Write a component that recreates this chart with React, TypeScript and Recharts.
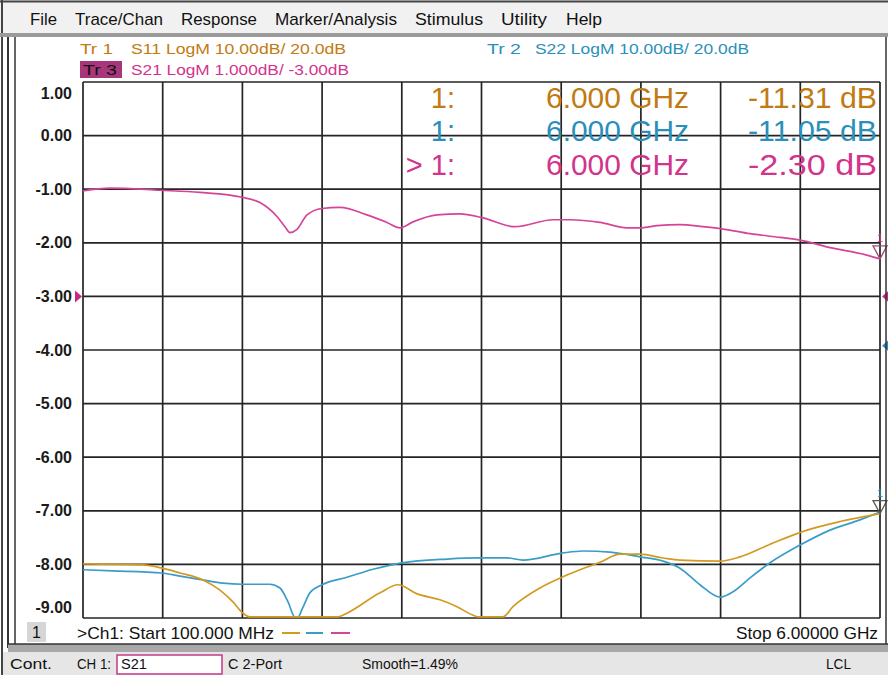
import { LineChart, Line, XAxis, YAxis, CartesianGrid, ReferenceDot, ReferenceLine } from 'recharts';

// sweep
const START_GHZ = 0.1;
const STOP_GHZ = 6.0;
const gridFreqs = Array.from({ length: 11 }, (_, i) => START_GHZ + (i * (STOP_GHZ - START_GHZ)) / 10);
const yTicks = [1, 0, -1, -2, -3, -4, -5, -6, -7, -8, -9];

// Tr 3: S21, 1 dB/div (left scale)
const s21Freq = [0.1, 0.3, 0.67, 0.966, 1.277, 1.41, 1.536, 1.595, 1.632, 1.684, 1.758, 1.869, 2.002, 2.202, 2.35, 2.447, 2.543, 2.721, 2.891, 3.054, 3.298, 3.579, 3.705, 3.927, 4.127, 4.238, 4.349, 4.519, 4.69, 4.83, 5.038, 5.26, 5.408, 5.63, 5.889, 6.0];
const s21Db = [-1.03, -0.98, -1.02, -1.06, -1.15, -1.25, -1.51, -1.7, -1.81, -1.75, -1.48, -1.36, -1.34, -1.48, -1.62, -1.72, -1.61, -1.48, -1.46, -1.53, -1.7, -1.57, -1.57, -1.62, -1.72, -1.72, -1.68, -1.66, -1.7, -1.74, -1.83, -1.9, -1.95, -2.09, -2.22, -2.3];

// Tr 1: S11, 10 dB/div (the display pins it to the bottom edge)
const s11Freq = [0.1, 0.544, 0.685, 0.818, 0.988, 1.114, 1.21, 1.284, 1.336, 1.706, 1.988, 2.054, 2.299, 2.432, 2.573, 2.743, 2.869, 2.98, 3.024, 3.209, 3.283, 3.483, 3.646, 3.779, 3.927, 4.075, 4.223, 4.394, 4.519, 4.816, 4.964, 5.208, 5.46, 5.704, 6.0];
const s11Db = [-20.7, -20.9, -21.5, -22.4, -23.7, -25.6, -27.8, -29.9, -30.6, -30.6, -30.6, -29.9, -26.1, -24.6, -26.3, -27.4, -28.7, -30.2, -30.6, -30.6, -28.7, -25.2, -23.2, -21.8, -20.4, -18.9, -18.9, -19.6, -20.0, -20.2, -19.4, -16.8, -14.4, -12.8, -11.31];

// Tr 2: S22, 10 dB/div
const s22Freq = [0.1, 0.322, 0.685, 0.818, 0.988, 1.136, 1.277, 1.484, 1.558, 1.618, 1.669, 1.692, 1.728, 1.78, 1.869, 2.054, 2.247, 2.461, 2.795, 3.039, 3.239, 3.357, 3.646, 3.801, 4.001, 4.223, 4.394, 4.519, 4.667, 4.816, 4.912, 5.038, 5.186, 5.408, 5.63, 5.852, 6.0];
const s22Db = [-21.8, -22.0, -22.4, -23.0, -23.7, -24.3, -24.5, -24.5, -25.2, -27.8, -30.6, -30.6, -28.8, -26.1, -24.6, -23.2, -21.7, -20.5, -19.8, -19.6, -19.6, -20.0, -18.7, -18.3, -18.5, -19.4, -20.2, -21.5, -24.6, -26.9, -25.9, -23.3, -20.5, -17.2, -14.4, -12.5, -11.05];

const S21_REF = -3;
const S22_REF = 20;
const MARKER_GHZ = 6.0;

const menuItems = [
  { label: 'File', x: 30, w: 27 },
  { label: 'Trace/Chan', x: 75, w: 88 },
  { label: 'Response', x: 181, w: 76 },
  { label: 'Marker/Analysis', x: 275, w: 122 },
  { label: 'Stimulus', x: 415, w: 68 },
  { label: 'Utility', x: 501, w: 46 },
  { label: 'Help', x: 566, w: 36 },
];

const ORANGE = '#d39a22';
const ORANGE_TXT = '#c27a12';
const BLUE = '#3a9cc8';
const BLUE_TXT = '#2a8fba';
const MAGENTA = '#d6449a';
const MAGENTA_TXT = '#d2348c';
const GRID = '#242424';
const FONT = '"Liberation Sans", Arial, sans-serif';

const s21Data = s21Freq.map((f, i) => ({ f, v: s21Db[i] }));
const s11Data = s11Freq.map((f, i) => ({ f, v: s11Db[i] }));
const s22Data = s22Freq.map((f, i) => ({ f, v: s22Db[i] }));

const DbTick = (props: any) => {
  const { x, y, payload } = props;
  const v = payload.value as number;
  const dy = v === 1 ? 11 : v === -9 ? -11 : 0;
  return (
    <text x={x} y={y + dy} textAnchor="end" dominantBaseline="central" fontFamily={FONT} fontWeight="bold" fontSize={16} fill="#1a1a1a">
      {v.toFixed(2)}
    </text>
  );
};

const markerShape = (stroke: string, labelColor: string) => (props: any) => {
  const { cx, cy } = props;
  return (
    <g>
      <text x={cx} y={cy - 17} textAnchor="middle" fontFamily={FONT} fontSize={11} fill={labelColor}>1</text>
      <path d={`M${cx - 7},${cy - 13} L${cx + 7},${cy - 13} L${cx},${cy} Z`} fill="none" stroke={stroke} strokeWidth={1.3} />
    </g>
  );
};

const refRight = (fill: string) => (props: any) => {
  const { cx, cy } = props;
  return <path d={`M${cx + 2},${cy} L${cx + 9},${cy - 6} L${cx + 9},${cy + 6} Z`} fill={fill} />;
};

const refLeft = (fill: string) => (props: any) => {
  const { cx, cy } = props;
  return <path d={`M${cx - 1},${cy} L${cx - 8},${cy - 6} L${cx - 8},${cy + 6} Z`} fill={fill} />;
};

const Overlay = () => (
  <svg width={888} height={675} style={{ position: 'absolute', left: 0, top: 0, pointerEvents: 'none' }}>
    {/* menu bar */}
    <rect x={0} y={0} width={888} height={34} fill="#f1f1f1" />
    <line x1={0} y1={1.5} x2={888} y2={1.5} stroke="#444" strokeWidth={2} />
    <line x1={2} y1={0} x2={2} y2={675} stroke="#444" strokeWidth={2} />
    {menuItems.map((m) => (
      <text key={m.label} x={m.x} y={25} fontFamily={FONT} fontSize={17} fill="#111" textLength={m.w} lengthAdjust="spacingAndGlyphs">
        {m.label}
      </text>
    ))}
    <rect x={0} y={33} width={888} height={4} fill="#9a9a9a" />
    {/* frame */}
    <line x1={8} y1={37} x2={8} y2={648} stroke="#333" strokeWidth={2} />
    <line x1={15} y1={37} x2={15} y2={645} stroke="#333" strokeWidth={1.5} />
    <line x1={886} y1={37} x2={886} y2={645} stroke="#333" strokeWidth={1.5} />
    <rect x={8} y={644} width={880} height={8} fill="#a8a8a8" />
    <line x1={8} y1={644} x2={888} y2={644} stroke="#333" strokeWidth={1.5} />
    {/* status bar */}
    <rect x={3} y={652} width={885} height={23} fill="#e6e6e6" />
    <text x={10} y={669} fontFamily={FONT} fontSize={14} fill="#111" textLength={42} lengthAdjust="spacingAndGlyphs">Cont.</text>
    <text x={77} y={669} fontFamily={FONT} fontSize={14} fill="#111" textLength={34} lengthAdjust="spacingAndGlyphs">CH 1:</text>
    <rect x={117} y={655} width={105} height={19} fill="#ffffff" stroke="#c03a86" strokeWidth={1.5} />
    <text x={121} y={669} fontFamily={FONT} fontSize={14} fill="#111" textLength={26} lengthAdjust="spacingAndGlyphs">S21</text>
    <text x={228} y={669} fontFamily={FONT} fontSize={14} fill="#111" textLength={54} lengthAdjust="spacingAndGlyphs">C 2-Port</text>
    <text x={362} y={669} fontFamily={FONT} fontSize={14} fill="#111" textLength={96} lengthAdjust="spacingAndGlyphs">Smooth=1.49%</text>
    <text x={826} y={669} fontFamily={FONT} fontSize={14} fill="#111" textLength={25} lengthAdjust="spacingAndGlyphs">LCL</text>
    {/* trace headers */}
    <text x={80} y={54} fontFamily={FONT} fontSize={15} fill={ORANGE_TXT} textLength={33} lengthAdjust="spacingAndGlyphs">Tr 1</text>
    <text x={131} y={54} fontFamily={FONT} fontSize={15} fill={ORANGE_TXT} textLength={215} lengthAdjust="spacingAndGlyphs">S11 LogM 10.00dB/ 20.0dB</text>
    <text x={487} y={54} fontFamily={FONT} fontSize={15} fill={BLUE_TXT} textLength={34} lengthAdjust="spacingAndGlyphs">Tr 2</text>
    <text x={535} y={54} fontFamily={FONT} fontSize={15} fill={BLUE_TXT} textLength={214} lengthAdjust="spacingAndGlyphs">S22 LogM 10.00dB/ 20.0dB</text>
    <rect x={80} y={61} width={42} height={17} fill="#a8367a" />
    <text x={83} y={75} fontFamily={FONT} fontSize={15} fill="#111" textLength={34} lengthAdjust="spacingAndGlyphs">Tr 3</text>
    <text x={131} y={75} fontFamily={FONT} fontSize={15} fill={MAGENTA_TXT} textLength={218} lengthAdjust="spacingAndGlyphs">S21 LogM 1.000dB/ -3.00dB</text>
    {/* marker readout */}
    <g fontFamily={FONT} fontSize={29}>
      <text x={455} y={108} textAnchor="end" fill={ORANGE_TXT}>1:</text>
      <text x={689} y={108} textAnchor="end" fill={ORANGE_TXT} textLength={143} lengthAdjust="spacingAndGlyphs">6.000 GHz</text>
      <text x={877} y={108} textAnchor="end" fill={ORANGE_TXT} textLength={129} lengthAdjust="spacingAndGlyphs">-11.31 dB</text>
      <text x={455} y={141} textAnchor="end" fill={BLUE_TXT}>1:</text>
      <text x={689} y={141} textAnchor="end" fill={BLUE_TXT} textLength={143} lengthAdjust="spacingAndGlyphs">6.000 GHz</text>
      <text x={877} y={141} textAnchor="end" fill={BLUE_TXT} textLength={129} lengthAdjust="spacingAndGlyphs">-11.05 dB</text>
      <text x={455} y={175} textAnchor="end" fill={MAGENTA_TXT}>&gt; 1:</text>
      <text x={689} y={175} textAnchor="end" fill={MAGENTA_TXT} textLength={143} lengthAdjust="spacingAndGlyphs">6.000 GHz</text>
      <text x={877} y={175} textAnchor="end" fill={MAGENTA_TXT} textLength={129} lengthAdjust="spacingAndGlyphs">-2.30 dB</text>
    </g>
    {/* channel footer */}
    <rect x={27} y={622} width={19} height={20} fill="#d6d6d6" />
    <text x={36.5} y={638} textAnchor="middle" fontFamily={FONT} fontSize={16} fill="#111">1</text>
    <text x={77} y={639} fontFamily={FONT} fontSize={17} fill="#111" textLength={197} lengthAdjust="spacingAndGlyphs">&gt;Ch1: Start  100.000 MHz</text>
    <line x1={282} y1={633} x2={300} y2={633} stroke={ORANGE} strokeWidth={2} />
    <line x1={306} y1={633} x2={323} y2={633} stroke={BLUE} strokeWidth={2} />
    <line x1={331} y1={633} x2={350} y2={633} stroke={MAGENTA} strokeWidth={2} />
    <text x={878} y={639} textAnchor="end" fontFamily={FONT} fontSize={17} fill="#111" textLength={142} lengthAdjust="spacingAndGlyphs">Stop  6.00000 GHz</text>
  </svg>
);

export default function App() {
  return (
    <div style={{ position: 'absolute', left: 0, top: 0, width: 888, height: 675, background: '#ffffff', overflow: 'hidden' }}>
      <LineChart width={888} height={675} margin={{ top: 82, right: 8, bottom: 57, left: 23 }}>
        <CartesianGrid stroke={GRID} strokeWidth={1.7} vertical={false} />
        <XAxis
          type="number"
          dataKey="f"
          domain={[START_GHZ, STOP_GHZ]}
          ticks={gridFreqs}
          height={0}
          tick={false}
          axisLine={false}
          tickLine={false}
          allowDataOverflow
        />
        <YAxis
          type="number"
          domain={[-9, 1]}
          ticks={yTicks}
          width={60}
          axisLine={false}
          tickLine={false}
          tickSize={0}
          tickMargin={11}
          tick={<DbTick />}
          allowDataOverflow
        />
        <YAxis yAxisId="log" orientation="right" type="number" domain={[-30.8, 69.2]} hide allowDataOverflow />
        {gridFreqs.map((f) => (
          <ReferenceLine key={f} x={f} stroke={GRID} strokeWidth={1.7} ifOverflow="visible" />
        ))}
        <Line data={s22Data} dataKey="v" yAxisId="log" type="monotone" stroke={BLUE} strokeWidth={1.7} dot={false} isAnimationActive={false} />
        <Line data={s11Data} dataKey="v" yAxisId="log" type="monotone" stroke={ORANGE} strokeWidth={1.7} dot={false} isAnimationActive={false} />
        <Line data={s21Data} dataKey="v" type="monotone" stroke={MAGENTA} strokeWidth={1.7} dot={false} isAnimationActive={false} />
        <ReferenceDot x={START_GHZ} y={S21_REF} ifOverflow="visible" shape={refLeft('#c8287f')} />
        <ReferenceDot x={STOP_GHZ} y={S21_REF} ifOverflow="visible" shape={refRight('#c8287f')} />
        <ReferenceDot x={STOP_GHZ} y={S22_REF} yAxisId="log" ifOverflow="visible" shape={refRight('#2a8fba')} />
        <ReferenceDot x={MARKER_GHZ} y={s21Db[s21Db.length - 1]} ifOverflow="visible" shape={markerShape('#a04a74', MAGENTA_TXT)} />
        <ReferenceDot x={MARKER_GHZ} y={s11Db[s11Db.length - 1]} yAxisId="log" ifOverflow="visible" shape={markerShape('#5a5a4a', BLUE_TXT)} />
      </LineChart>
      <Overlay />
    </div>
  );
}
